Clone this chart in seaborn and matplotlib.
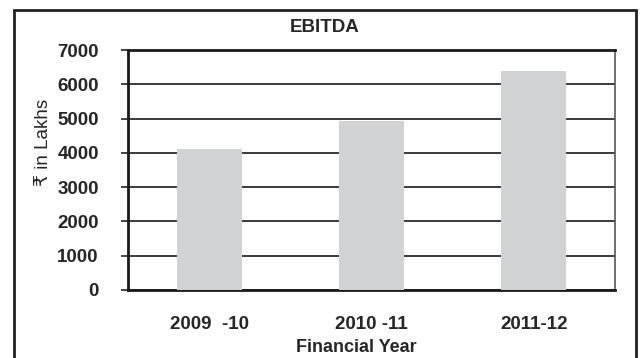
import seaborn as sns
import matplotlib.pyplot as plt
import pandas as pd
from matplotlib.patches import Rectangle

# Data
years = ["2009  -10", "2010 -11", "2011-12"]
ebitda = [4100, 4930, 6390]
yticks = [0, 1000, 2000, 3000, 4000, 5000, 6000, 7000]

df = pd.DataFrame({"year": years, "ebitda": ebitda})

sns.set_style("white")
plt.rcParams["font.family"] = ["Liberation Sans", "DejaVu Sans"]

fig = plt.figure(figsize=(6.4, 3.58), dpi=100)
ax = fig.add_axes([0.2, 0.19, 0.761, 0.67])

sns.barplot(data=df, x="year", y="ebitda", color="#d1d2d4", width=0.4,
            saturation=1, linewidth=0, ax=ax, zorder=3)

ax.set_ylim(0, 7000)
ax.set_xlim(-0.5, 2.5)
ax.set_yticks(yticks)
ax.set_yticklabels([str(t) for t in yticks], fontsize=13.5, fontweight="bold")
ax.set_xticks(range(len(years)))
ax.set_xticklabels(years, fontsize=13.5, fontweight="bold")
ax.set_xticks([-0.5, 0.5, 1.5, 2.5], minor=True)
ax.tick_params(axis="x", which="major", length=0, pad=19)
ax.tick_params(axis="x", which="minor", length=5, width=1.2, color="#222222", direction="out")
ax.tick_params(axis="y", length=5, width=1.2, color="#222222", pad=16, left=True)
ax.set_xlabel("")
ax.set_ylabel("")

ax.yaxis.grid(True, color="#1a1a1a", linewidth=1.2, zorder=0)
ax.set_axisbelow(True)
for side in ["left", "bottom", "top"]:
    ax.spines[side].set_visible(True)
    ax.spines[side].set_color("#1a1a1a")
    ax.spines[side].set_linewidth(2)
ax.spines["right"].set_visible(True)
ax.spines["right"].set_color("#555555")
ax.spines["right"].set_linewidth(1.2)

fig.text(325 / 640, 1 - 28 / 358, "EBITDA", ha="center", va="center",
         fontsize=13.5, fontweight="bold")
fig.text(356 / 640, 1 - 347 / 358, "Financial Year", ha="center", va="center",
         fontsize=13, fontweight="bold")
fig.text(44 / 640, 1 - 142 / 358, "₹ in Lakhs", ha="center", va="center",
         rotation=90, fontsize=13.5)

# outer frame, open at the bottom edge of the image
fig.patches.append(Rectangle((14 / 640, -0.05), 622 / 640, 1.05 - 10 / 358,
                             transform=fig.transFigure, fill=False,
                             edgecolor="#222222", linewidth=2))

fig.savefig("out.png", dpi=100)
